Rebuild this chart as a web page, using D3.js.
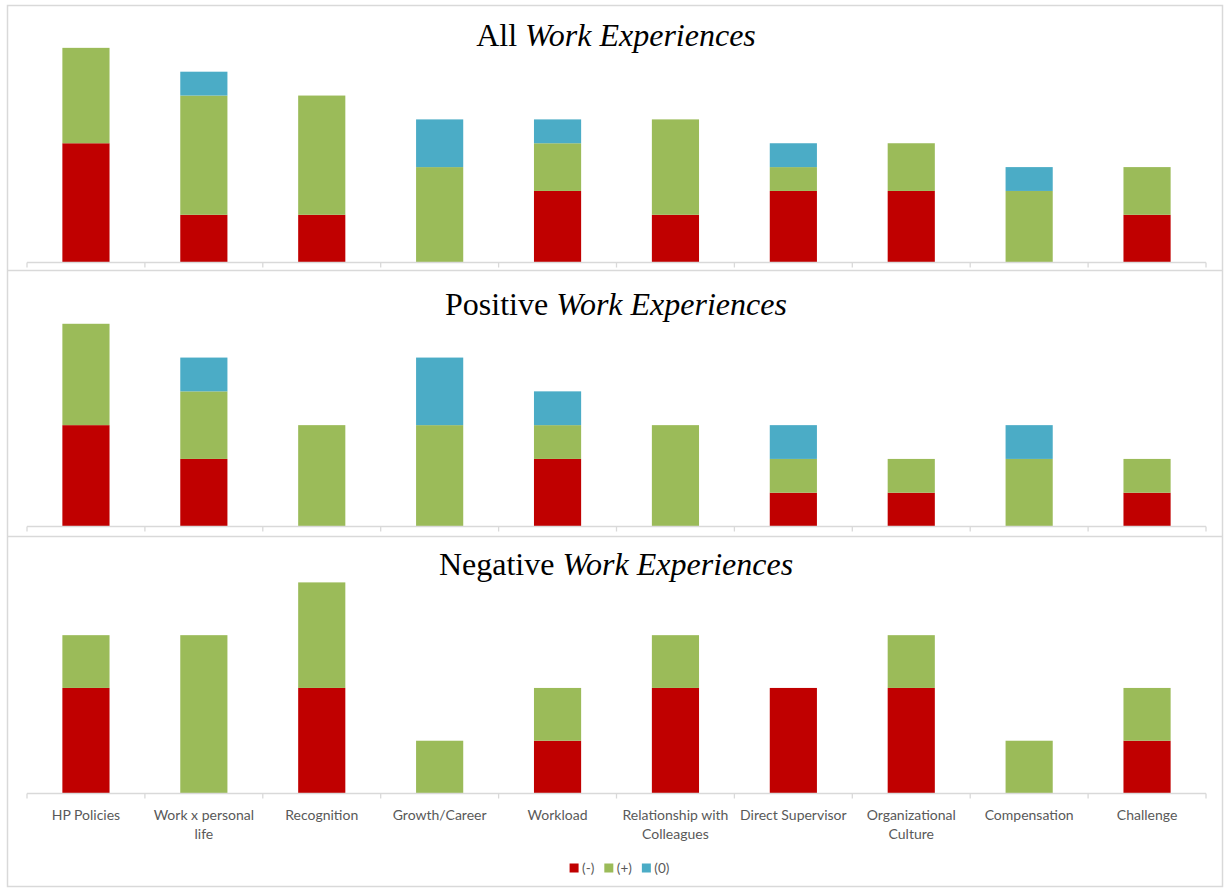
<!DOCTYPE html>
<html>
<head>
<meta charset="utf-8">
<script src="https://cdn.jsdelivr.net/npm/d3@7"></script>
<style>
  html, body { margin: 0; padding: 0; background: #ffffff; }
  svg { display: block; }
</style>
</head>
<body>
<svg id="chart" width="1224" height="888"></svg>
<script>
// Work-experience themes (category axis), "\n" marks a line break in the tick label
const categories = [
  "HP Policies", "Work x personal\nlife", "Recognition", "Growth/Career", "Workload",
  "Relationship with\nColleagues", "Direct Supervisor", "Organizational\nCulture",
  "Compensation", "Challenge"
];

// Series keys and legend labels
const seriesKeys = ["neg", "pos", "neu"];
const seriesLabels = ["(-)", "(+)", "(0)"];
const seriesColors = ["#C00000", "#9BBB59", "#4BACC6"];

// All work experiences
const allNeg = [5, 2, 2, 0, 3, 2, 3, 3, 0, 2];
const allPos = [4, 5, 5, 4, 2, 4, 1, 2, 3, 2];
const allNeu = [0, 1, 0, 2, 1, 0, 1, 0, 1, 0];

// Positive work experiences
const posNeg = [3, 2, 0, 0, 2, 0, 1, 1, 0, 1];
const posPos = [3, 2, 3, 3, 1, 3, 1, 1, 2, 1];
const posNeu = [0, 1, 0, 2, 1, 0, 1, 0, 1, 0];

// Negative work experiences
const negNeg = [2, 0, 2, 0, 1, 2, 2, 2, 0, 1];
const negPos = [1, 3, 2, 1, 1, 1, 0, 1, 1, 1];
const negNeu = [0, 0, 0, 0, 0, 0, 0, 0, 0, 0];

const panelTitles = [
  ["All ", "Work Experiences"],
  ["Positive ", "Work Experiences"],
  ["Negative ", "Work Experiences"]
];
const panelMax = [10, 7, 4.5];

function rows(neg, pos, neu) {
  return categories.map((c, i) => ({ cat: c, neg: neg[i], pos: pos[i], neu: neu[i] }));
}
const panelData = [
  rows(allNeg, allPos, allNeu),
  rows(posNeg, posPos, posNeu),
  rows(negNeg, negPos, negNeu)
];

// Layout of the three stacked panels
const panels = [
  { top: 5.5,   axisY: 262.5, plotTop: 24,  titleY: 46 },
  { top: 270.5, axisY: 526.5, plotTop: 290, titleY: 315 },
  { top: 536.5, axisY: 793.5, plotTop: 556, titleY: 575 }
];
const frameLeft = 7.5, frameRight = 1222.5, frameBottom = 886.5;
const lineColor = "#d9d9d9";
const textColor = "#595959";

const svg = d3.select("#chart");

const x = d3.scaleBand()
  .domain(categories)
  .range([27, 1206])
  .paddingInner(0.6)
  .paddingOuter(0.3);

const stack = d3.stack().keys(seriesKeys);
const color = d3.scaleOrdinal().domain(seriesKeys).range(seriesColors);

// Outer frame and panel separators
const frame = svg.append("g").attr("stroke", lineColor).attr("stroke-width", 1.5).attr("fill", "none");
frame.append("rect")
  .attr("x", frameLeft).attr("y", panels[0].top)
  .attr("width", frameRight - frameLeft).attr("height", frameBottom - panels[0].top);
panels.slice(1).forEach(p => {
  frame.append("line")
    .attr("x1", frameLeft).attr("x2", frameRight)
    .attr("y1", p.top).attr("y2", p.top);
});

const [x0, x1] = x.range();
const boundaries = d3.range(categories.length + 1).map(i => x0 + i * (x1 - x0) / categories.length);

panels.forEach((p, pi) => {
  const g = svg.append("g");
  const y = d3.scaleLinear().domain([0, panelMax[pi]]).range([p.axisY, p.plotTop]);
  const stacked = stack(panelData[pi]);

  // Stacked bars
  g.selectAll("g.series")
    .data(stacked)
    .join("g")
    .attr("class", "series")
    .attr("fill", d => color(d.key))
    .selectAll("rect")
    .data(d => d.filter(s => s[1] - s[0] > 0))
    .join("rect")
    .attr("x", d => x(d.data.cat))
    .attr("width", x.bandwidth())
    .attr("y", d => y(d[1]))
    .attr("height", d => y(d[0]) - y(d[1]));

  // Category axis line with tick marks between categories
  const axis = g.append("g").attr("stroke", lineColor).attr("stroke-width", 1.3);
  axis.append("line")
    .attr("x1", x0).attr("x2", x1)
    .attr("y1", p.axisY).attr("y2", p.axisY);
  axis.selectAll("line.tick")
    .data(boundaries)
    .join("line")
    .attr("class", "tick")
    .attr("x1", d => d).attr("x2", d => d)
    .attr("y1", p.axisY).attr("y2", p.axisY + 5);

  // Panel title: plain lead word followed by italic phrase
  const t = g.append("text")
    .attr("x", 616).attr("y", p.titleY)
    .attr("text-anchor", "middle")
    .attr("font-family", "'Liberation Serif', 'Times New Roman', serif")
    .attr("font-size", 32)
    .attr("fill", "#000");
  t.append("tspan").text(panelTitles[pi][0]);
  t.append("tspan").attr("font-style", "italic").text(panelTitles[pi][1]);
});

// Category labels under the bottom panel
const labelG = svg.append("g")
  .attr("font-family", "Lato, 'Open Sans', sans-serif")
  .attr("font-size", 14)
  .attr("fill", textColor)
  .attr("text-anchor", "middle");
categories.forEach(c => {
  const cx = x(c) + x.bandwidth() / 2;
  const txt = labelG.append("text").attr("x", cx).attr("y", 820);
  c.split("\n").forEach((line, li) => {
    txt.append("tspan").attr("x", cx).attr("dy", li === 0 ? 0 : 19).text(line);
  });
});

// Legend, centred below the labels
const legend = svg.append("g")
  .attr("font-family", "Lato, 'Open Sans', sans-serif")
  .attr("font-size", 13.5)
  .attr("fill", textColor);
const sw = 9, gapText = 3.5, gapItem = 10;
const items = seriesKeys.map((k, i) => {
  const it = legend.append("g");
  it.append("rect").attr("width", sw).attr("height", sw).attr("y", 863.5).attr("fill", seriesColors[i]);
  const tx = it.append("text").attr("x", sw + gapText).attr("y", 872.5).text(seriesLabels[i]);
  return { g: it, w: sw + gapText + tx.node().getComputedTextLength() };
});
const totalW = d3.sum(items, d => d.w) + gapItem * (items.length - 1);
let lx = 619.5 - totalW / 2;
items.forEach(it => {
  it.g.attr("transform", `translate(${lx},0)`);
  lx += it.w + gapItem;
});
</script>
</body>
</html>
